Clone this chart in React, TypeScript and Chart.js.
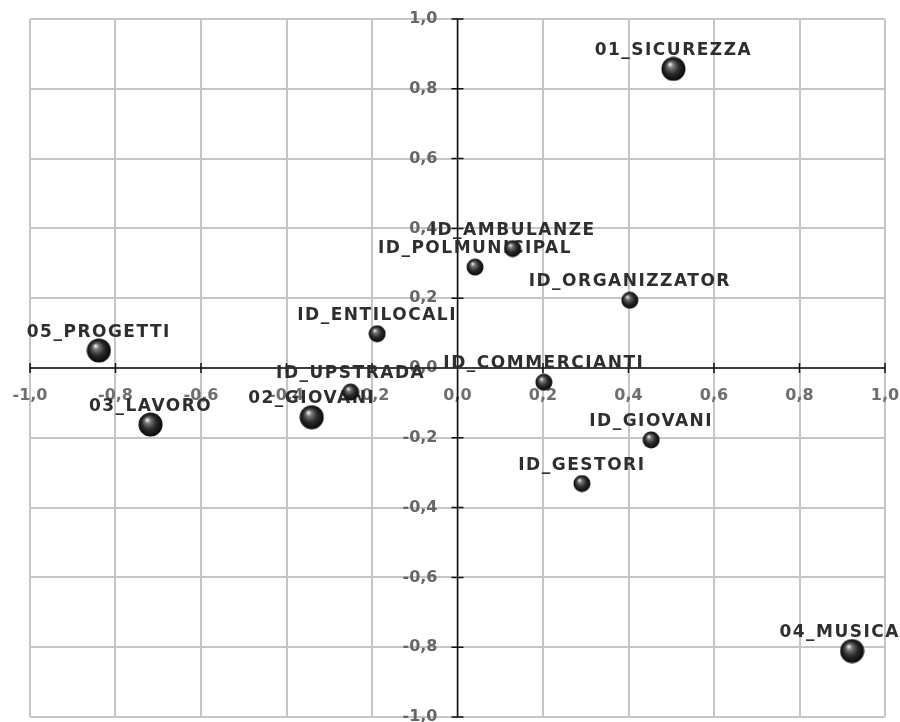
import React, { useEffect, useRef } from 'react';
import { Chart, registerables } from 'chart.js';

Chart.register(...registerables);

// Major categories (large markers)
const majorLabels = ['01_SICUREZZA', '02_GIOVANI', '03_LAVORO', '04_MUSICA', '05_PROGETTI'];
const majorX = [0.505, -0.341, -0.718, 0.923, -0.839];
const majorY = [0.857, -0.141, -0.162, -0.811, 0.05];

// ID variables (small markers)
const minorLabels = [
  'ID_UPSTRADA',
  'ID_ENTILOCALI',
  'ID_POLMUNICIPAL',
  'ID_AMBULANZE',
  'ID_ORGANIZZATOR',
  'ID_COMMERCIANTI',
  'ID_GIOVANI',
  'ID_GESTORI',
];
const minorX = [-0.25, -0.188, 0.041, 0.129, 0.403, 0.202, 0.453, 0.291];
const minorY = [-0.069, 0.098, 0.289, 0.342, 0.194, -0.041, -0.206, -0.331];

const axisMin = -1;
const axisMax = 1;
const axisStep = 0.2;

const pointLabelSets = [minorLabels, majorLabels];

function makeSphere(d: number): HTMLCanvasElement {
  const c = document.createElement('canvas');
  c.width = d;
  c.height = d;
  const ctx = c.getContext('2d')!;
  const r = d / 2;
  const g = ctx.createRadialGradient(r * 0.72, r * 0.62, r * 0.04, r, r, r);
  g.addColorStop(0, '#eeeeee');
  g.addColorStop(0.2, '#7a7a7a');
  g.addColorStop(0.55, '#2c2c2c');
  g.addColorStop(1, '#050505');
  ctx.fillStyle = g;
  ctx.beginPath();
  ctx.arc(r, r, r - 0.5, 0, Math.PI * 2);
  ctx.fill();
  return c;
}

const fmt = (v: number | string) => {
  const n = Number(v);
  if (Math.abs(n) < 1e-9) return '0,0';
  return n.toFixed(1).replace('.', ',');
};

const zeroPadding = (scale: any) => {
  scale.paddingLeft = 0;
  scale.paddingRight = 0;
  scale.paddingTop = 0;
  scale.paddingBottom = 0;
};

const overlayPlugin = {
  id: 'overlay',
  beforeDatasetsDraw(chart: any) {
    const { ctx, chartArea } = chart;
    const xs = chart.scales.x;
    const ys = chart.scales.y;
    const cx = xs.getPixelForValue(0);
    const cy = ys.getPixelForValue(0);
    ctx.save();
    ctx.strokeStyle = '#111';
    ctx.lineWidth = 1.5;
    ctx.beginPath();
    ctx.moveTo(chartArea.left, cy);
    ctx.lineTo(chartArea.right, cy);
    ctx.moveTo(cx, chartArea.top);
    ctx.lineTo(cx, chartArea.bottom);
    xs.ticks.forEach((t: any) => {
      const px = xs.getPixelForValue(t.value);
      ctx.moveTo(px, cy - 5);
      ctx.lineTo(px, cy + 5);
    });
    ys.ticks.forEach((t: any) => {
      const py = ys.getPixelForValue(t.value);
      ctx.moveTo(cx - 6, py);
      ctx.lineTo(cx + 6, py);
    });
    ctx.stroke();

    ctx.font = 'bold 17px "DejaVu Sans"';
    ctx.fillStyle = '#2e2e2e';
    ctx.textAlign = 'center';
    ctx.textBaseline = 'alphabetic';
    (ctx as any).letterSpacing = '1.5px';
    chart.data.datasets.forEach((_ds: any, di: number) => {
      const meta = chart.getDatasetMeta(di);
      const texts = pointLabelSets[di];
      meta.data.forEach((el: any, i: number) => {
        const text = texts[i];
        const w = ctx.measureText(text).width;
        const px = Math.min(Math.max(el.x, w / 2), 900 - w / 2);
        ctx.fillText(text, px, el.y - 14);
      });
    });
    ctx.restore();
  },
};

export default function App() {
  const ref = useRef<HTMLCanvasElement | null>(null);

  useEffect(() => {
    if (!ref.current) return;
    const big = makeSphere(25);
    const small = makeSphere(18);
    const tickFont = { family: '"DejaVu Sans"', size: 16, weight: 'bold' as const };
    const chart = new Chart(ref.current, {
      type: 'scatter',
      data: {
        datasets: [
          {
            label: 'ID',
            data: minorX.map((x, i) => ({ x, y: minorY[i] })),
            pointStyle: small as any,
            pointRadius: 9,
          },
          {
            label: 'Categorie',
            data: majorX.map((x, i) => ({ x, y: majorY[i] })),
            pointStyle: big as any,
            pointRadius: 12,
          },
        ],
      },
      options: {
        responsive: false,
        animation: false,
        layout: { padding: { left: 30, right: 15, top: 19, bottom: 6 } },
        plugins: {
          legend: { display: false },
          tooltip: { enabled: false },
        },
        scales: {
          x: {
            type: 'linear',
            position: 'center',
            min: axisMin,
            max: axisMax,
            afterFit: zeroPadding,
            ticks: {
              stepSize: axisStep,
              callback: (v: any) => fmt(v),
              padding: 18,
              color: '#6e6e6e',
              font: tickFont,
              autoSkip: false,
              maxRotation: 0,
            },
            grid: { color: '#c6c6c6', lineWidth: 2, drawTicks: false },
            border: { display: false },
          },
          y: {
            type: 'linear',
            position: 'center',
            min: axisMin,
            max: axisMax,
            afterFit: zeroPadding,
            ticks: {
              stepSize: axisStep,
              callback: (v: any) => fmt(v),
              padding: 20,
              color: '#666666',
              font: tickFont,
              autoSkip: false,
            },
            grid: { color: '#c6c6c6', lineWidth: 2, drawTicks: false },
            border: { display: false },
          },
        },
      },
      plugins: [overlayPlugin],
    });
    return () => chart.destroy();
  }, []);

  return (
    <div style={{ position: 'fixed', left: 0, top: 0, width: 900, height: 722, overflow: 'hidden', background: '#fff' }}>
      <canvas ref={ref} width={900} height={730} />
    </div>
  );
}
